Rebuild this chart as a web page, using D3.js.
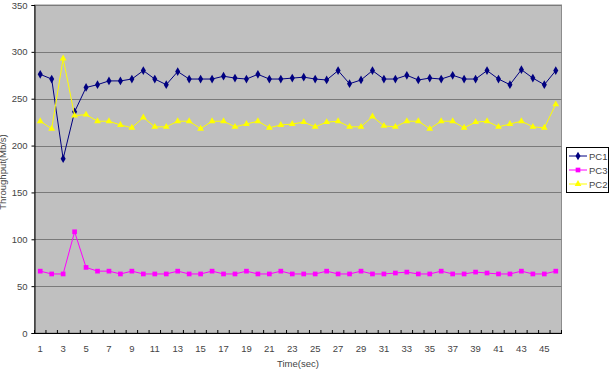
<!DOCTYPE html>
<html>
<head>
<meta charset="utf-8">
<script src="https://cdn.jsdelivr.net/npm/d3@7"></script>
<style>
  body { margin: 0; background: #fff; }
  text { font-family: "Liberation Sans", Arial, sans-serif; }
</style>
</head>
<body>
<script>
// data, one value per second (1..46)
var seconds = d3.range(1, 47);
var pc1 = [276, 271, 186, 236, 262, 265, 269, 269, 271, 280, 271, 265, 279, 271, 271,
           271, 274, 272, 271, 276, 271, 271, 272, 273, 271, 270, 280, 266, 270, 280,
           271, 271, 275, 270, 272, 271, 275, 271, 271, 280, 271, 265, 281, 272, 265, 280];
var pc3 = [66, 63, 63, 108, 70, 66, 66, 63, 66, 63, 63, 63, 66, 63, 63,
           66, 63, 63, 66, 63, 63, 66, 63, 63, 63, 66, 63, 63, 66, 63,
           63, 64, 65, 63, 63, 66, 63, 63, 65, 64, 63, 63, 66, 63, 63, 66];
var pc2 = [226, 218, 293, 232, 233, 226, 226, 222, 219, 230, 220, 220, 226, 226, 218,
           226, 226, 220, 223, 226, 219, 222, 223, 225, 220, 225, 226, 220, 220, 231,
           221, 220, 226, 226, 218, 226, 226, 219, 225, 226, 220, 223, 226, 220, 219, 244];
var yTicks = [0, 50, 100, 150, 200, 250, 300, 350];

var series = [
    { name: "PC1", values: pc1, color: "#000080", shape: d3.symbolDiamond, size: 22 },
    { name: "PC3", values: pc3, color: "#ff00ff", shape: d3.symbolSquare, size: 22 },
    { name: "PC2", values: pc2, color: "#ffff00", shape: d3.symbolTriangle, size: 20 }
];

// (don't call these top/left - window.top is taken)
var width = 611, height = 379;
var plotLeft = 34.5, plotRight = 561.5, plotTop = 5, plotBottom = 333;

var svg = d3.select("body").append("svg")
    .attr("width", width)
    .attr("height", height);

var x = d3.scaleBand()
    .domain(seconds)
    .range([plotLeft, plotRight]);

var y = d3.scaleLinear()
    .domain([0, 350])
    .range([plotBottom, plotTop]);

// plot background
svg.append("rect")
    .attr("x", plotLeft)
    .attr("y", plotTop)
    .attr("width", plotRight - plotLeft)
    .attr("height", plotBottom - plotTop)
    .attr("fill", "#c0c0c0")
    .attr("stroke", "#8c8c8c")
    .attr("stroke-width", 1);

// gridlines
svg.selectAll(".grid")
    .data(yTicks.slice(1))
    .enter()
    .append("line")
    .attr("x1", plotLeft)
    .attr("x2", plotRight)
    .attr("y1", function(d) { return Math.round(y(d)) + 0.5; })
    .attr("y2", function(d) { return Math.round(y(d)) + 0.5; })
    .attr("stroke", "#7a7a7a")
    .attr("stroke-width", 1);

// y axis
var yAxis = svg.append("g")
    .attr("transform", "translate(" + plotLeft + ",0)")
    .call(d3.axisLeft(y).tickValues(yTicks).tickSize(3).tickPadding(4));
yAxis.select(".domain").attr("stroke", "#000");
yAxis.selectAll("text").attr("font-size", "9.5px").attr("fill", "#444");

// x axis, ticks between categories
var xAxis = svg.append("g")
    .attr("transform", "translate(0," + plotBottom + ")")
    .call(d3.axisBottom(x)
        .tickValues(seconds.filter(function(d) { return d % 2 == 1; }))
        .tickSize(0)
        .tickPadding(12));
xAxis.select(".domain").attr("stroke", "#000");
xAxis.selectAll("text").attr("font-size", "9.5px").attr("fill", "#444");

svg.selectAll(".xtick")
    .data(seconds.concat([47]))
    .enter()
    .append("line")
    .attr("x1", function(d) { return d == 47 ? plotRight : x(d); })
    .attr("x2", function(d) { return d == 47 ? plotRight : x(d); })
    .attr("y1", plotBottom)
    .attr("y2", plotBottom - 3)
    .attr("stroke", "#000");

// lines + markers
var line = d3.line()
    .x(function(d, i) { return x(seconds[i]) + x.bandwidth() / 2; })
    .y(function(d) { return y(d); });

series.forEach(function(s) {
    svg.append("path")
        .datum(s.values)
        .attr("d", line)
        .attr("fill", "none")
        .attr("stroke", s.color)
        .attr("stroke-width", 1);

    svg.selectAll(".m-" + s.name)
        .data(s.values)
        .enter()
        .append("path")
        .attr("d", d3.symbol().type(s.shape).size(s.size))
        .attr("transform", function(d, i) {
            return "translate(" + (x(seconds[i]) + x.bandwidth() / 2) + "," + y(d) + ")";
        })
        .attr("fill", s.color);
});

// axis titles
svg.append("text")
    .attr("x", (plotLeft + plotRight) / 2)
    .attr("y", 367)
    .attr("text-anchor", "middle")
    .attr("font-size", "9.5px")
    .attr("fill", "#444")
    .text("Time(sec)");

svg.append("text")
    .attr("transform", "translate(6,172) rotate(-90)")
    .attr("text-anchor", "middle")
    .attr("font-size", "9.5px")
    .attr("fill", "#444")
    .text("Throughput(Mb/s)");

// legend
var legend = svg.append("g");
legend.append("rect")
    .attr("x", 566.5)
    .attr("y", 147.5)
    .attr("width", 42)
    .attr("height", 45)
    .attr("fill", "#fff")
    .attr("stroke", "#000");

series.forEach(function(s, i) {
    var ly = 156 + i * 14;
    legend.append("line")
        .attr("x1", 569)
        .attr("x2", 587)
        .attr("y1", ly)
        .attr("y2", ly)
        .attr("stroke", s.color);
    legend.append("path")
        .attr("d", d3.symbol().type(s.shape).size(s.size))
        .attr("transform", "translate(578," + ly + ")")
        .attr("fill", s.color);
    legend.append("text")
        .attr("x", 589)
        .attr("y", ly + 3.5)
        .attr("font-size", "9.5px")
        .attr("fill", "#444")
        .text(s.name);
});
</script>
</body>
</html>
